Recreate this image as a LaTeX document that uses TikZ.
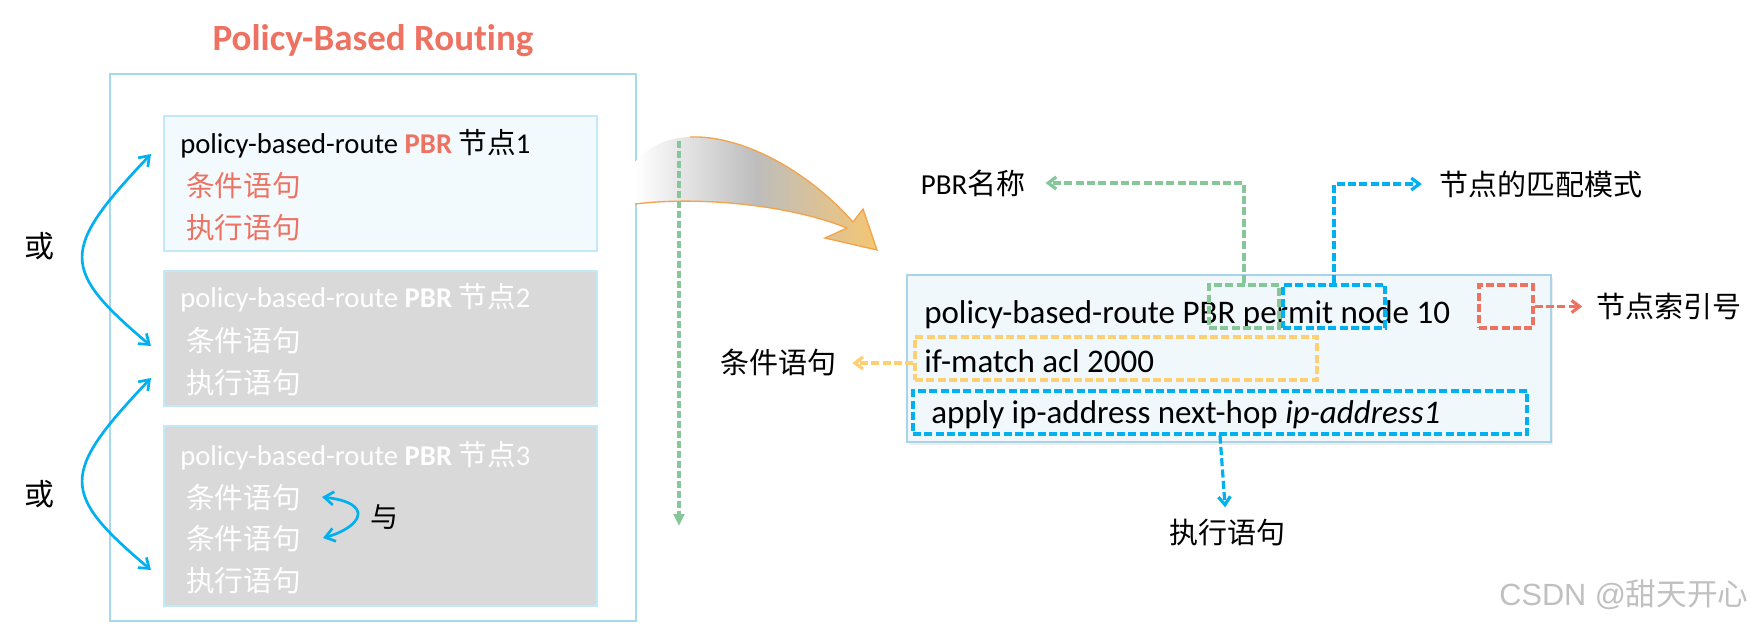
\documentclass[tikz,border=0pt]{standalone}
\usepackage{fontspec}
\setmainfont{Carlito}[Ligatures=NoCommon]
\newfontfamily\cjk{Noto Sans CJK SC}
\newfontfamily\wmfont{Liberation Sans}
\usetikzlibrary{arrows.meta,fit,shadows}
\newcommand\fsz[1]{\fontsize{#1}{#1}\selectfont}
\definecolor{pbrred}{HTML}{EE7262}
\definecolor{cyanb}{HTML}{00B0F0}
\definecolor{dgreen}{HTML}{86C79A}
\definecolor{dorange}{HTML}{FFCF73}
\definecolor{outerb}{HTML}{A5D9EE}
\definecolor{lightfill}{HTML}{F2FAFD}
\definecolor{lightb}{HTML}{C3E9F8}
\definecolor{grayfill}{HTML}{D9D9D9}
\definecolor{rfill}{HTML}{F1F8FC}
\definecolor{rborder}{HTML}{A9D3E8}
\definecolor{agray}{HTML}{BDBDBD}
\definecolor{atan}{HTML}{F5C673}
\definecolor{aorange}{HTML}{F4A34B}
\definecolor{wmgray}{HTML}{C0C0C0}
\tikzset{
  pbox/.style={inner sep=0pt, line width=1.5pt},
  dbox/.style={draw, inner sep=0pt, line width=2.4pt, dash pattern=on 6pt off 2.5pt},
  darr/.style={line width=2.4pt, dash pattern=on 6pt off 2.5pt, -{Straight Barb[length=6pt,width=9pt]}},
  barr/.style={draw=cyanb, line width=2pt, {Straight Barb[length=7pt,width=10pt]}-{Straight Barb[length=7pt,width=10pt]}},
  lbl/.style={inner sep=0pt, font=\cjk\fsz{21.75}},
  lnw/.style={inner sep=0pt, anchor=base west, font=\fsz{21.5}},
  cjkln/.style={inner sep=0pt, anchor=base west, font=\cjk\fsz{21.5}},
  rln/.style={inner sep=0pt, anchor=base west, font=\fsz{24.75}}
}
\begin{document}
\begin{tikzpicture}[x=0.75pt,y=-0.75pt]
\useasboundingbox (0,0) rectangle (1764,626);
\fill[white] (0,0) rectangle (1764,626);

% left panel
\node[fit={(110,74)(636,621)}, pbox, draw=outerb, fill=white] (outer) {};
\node[inner sep=0pt, anchor=base, font=\bfseries\fsz{27.75}, text=pbrred] (title) at (373,50) {Policy-Based Routing};

\node[fit={(164,116)(597,251)}, pbox, draw=lightb, fill=lightfill] (box1) {};
\node[fit={(164,271)(597,406)}, pbox, draw=lightb, fill=grayfill] (box2) {};
\node[fit={(164,426)(597,606)}, pbox, draw=lightb, fill=grayfill] (box3) {};

\node[lnw] (b1l1) at (180,153) {policy-based-route {\bfseries\color{pbrred}PBR} {\cjk 节点}1};
\node[cjkln, text=pbrred] (b1l2) at (186,196) {条件语句};
\node[cjkln, text=pbrred] (b1l3) at (186,238) {执行语句};

\node[lnw, text=white] (b2l1) at (180,307) {policy-based-route \textbf{PBR} {\cjk 节点}2};
\node[cjkln, text=white] (b2l2) at (186,351) {条件语句};
\node[cjkln, text=white] (b2l3) at (186,393) {执行语句};

\node[lnw, text=white] (b3l1) at (180,465) {policy-based-route \textbf{PBR} {\cjk 节点}3};
\node[cjkln, text=white] (b3l2) at (186,508) {条件语句};
\node[cjkln, text=white] (b3l3) at (186,549) {条件语句};
\node[cjkln, text=white] (b3l4) at (186,591) {执行语句};

% or / and arrows
\coordinate (o1a) at (151,154);
\coordinate (o1b) at (151,346);
\draw[barr] (o1a) .. controls (60,250) and (60,269) .. (o1b);
\coordinate (o2a) at (151,378);
\coordinate (o2b) at (151,570);
\draw[barr] (o2a) .. controls (60,474) and (60,493) .. (o2b);
\node[lbl, font=\cjk\fsz{22.5}] (or1) at (39,246) {或};
\node[lbl, font=\cjk\fsz{22.5}] (or2) at (39,494) {或};

\coordinate (y1) at (322,497);
\coordinate (y2) at (323,538);
\draw[barr] (y1) .. controls (375,503) and (362,527) .. (y2);
\node[lbl, font=\cjk\fsz{21}] (and1) at (384,517) {与};

% big curved arrow
\shade[left color=white, right color=atan, middle color=agray]
  (635,204) .. controls (700,196) and (790,205) .. (847,228) -- (825,238) -- (877,250) -- (863,209) -- (853,222)
  .. controls (805,168) and (740,135) .. (690,137) .. controls (662,138) and (645,150) .. (635,162) -- cycle;
\draw[aorange, line width=1pt, line join=miter]
  (635,204) .. controls (700,196) and (790,205) .. (847,228) -- (825,238) -- (877,250) -- (863,209) -- (853,222)
  .. controls (805,168) and (740,135) .. (690,137);

\coordinate (gv1) at (679,141);
\coordinate (gv2) at (679,526);
\draw[line width=2.4pt, dash pattern=on 5pt off 2.5pt, dgreen, -{Triangle[length=9pt,width=8pt]}] (gv1) -- (gv2);

% right panel
\node[fit={(907,275)(1551,442)}, inner sep=0pt, draw=rborder, line width=1.5pt, fill=rfill,
      drop shadow={opacity=0.12, shadow xshift=1.5pt, shadow yshift=-2.5pt}] (cmdbox) {};

\node[rln] (r1) at (924,323) {policy-based-route PBR permit node 10};
\node[rln] (r2) at (924,372) {if-match acl 2000};
\node[rln] (r3) at (931,423) {apply ip-address next-hop \textit{ip-address1}};

\node[dbox, draw=dgreen, fit={(1209,285)(1279,328)}] (gbox) {};
\node[dbox, draw=cyanb, fit={(1283,285)(1385,328)}] (bbox) {};
\node[dbox, draw=pbrred, fit={(1479,285)(1533,328)}] (redbox) {};
\node[dbox, draw=dorange, fit={(915,337)(1317,380)}] (obox) {};
\node[dbox, draw=cyanb, fit={(913,391)(1527,434)}] (abox) {};

\node[lbl] (pbrname) at (973,183) {{\rmfamily PBR}名称};
\node[lbl] (matchlbl) at (1541,184) {节点的匹配模式};
\node[lbl] (idxlbl) at (1669,306) {节点索引号};
\node[lbl] (condlbl) at (778,363) {条件语句};
\node[lbl] (execlbl) at (1227,533) {执行语句};

\draw[darr, dgreen, shorten >=15pt] (gbox.north) |- (pbrname);
\draw[darr, cyanb, shorten >=13pt] (bbox.north) |- (matchlbl);
\draw[darr, pbrred, shorten >=10.5pt] (redbox.east) -- (idxlbl.west |- redbox.east);
\draw[darr, dorange, shorten >=12pt] (condlbl -| obox.west) -- (condlbl);
\draw[darr, cyanb, shorten >=9pt] (abox.south) -- (execlbl);

\node[inner sep=0pt, font=\wmfont\fsz{23}, text=wmgray] (wm) at (1624,595) {CSDN @{\cjk 甜天开心}};
\end{tikzpicture}
\end{document}
